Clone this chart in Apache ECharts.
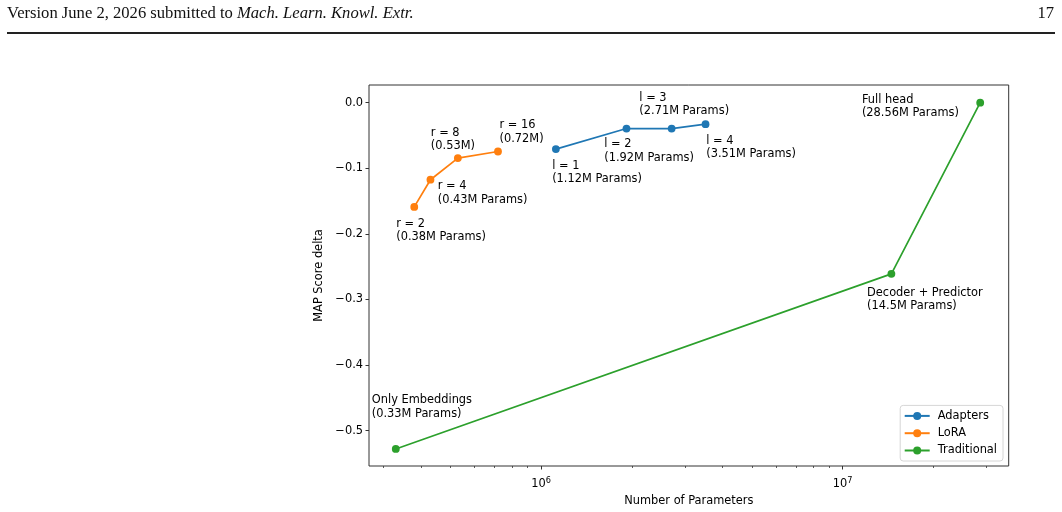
<!DOCTYPE html>
<html>
<head>
<meta charset="utf-8">
<script src="https://cdn.jsdelivr.net/npm/echarts@6/dist/echarts.min.js"></script>
<style>
  html, body { margin: 0; padding: 0; background: #fff; }
  #chart { width: 1062px; height: 512px; }
</style>
</head>
<body>
<div id="chart"></div>
<script>
// values
const adaptersParams = [1.12e6, 1.92e6, 2.71e6, 3.51e6];
const adaptersDelta = [-0.0708, -0.0395, -0.0395, -0.0328];
const adaptersLabels = ['l = 1\n(1.12M Params)', 'l = 2\n(1.92M Params)', 'l = 3\n(2.71M Params)', 'l = 4\n(3.51M Params)'];

const loraParams = [0.38e6, 0.43e6, 0.53e6, 0.72e6];
const loraDelta = [-0.159, -0.1175, -0.0845, -0.0745];
const loraLabels = ['r = 2\n(0.38M Params)', 'r = 4\n(0.43M Params)', 'r = 8\n(0.53M)', 'r = 16\n(0.72M)'];

const traditionalParams = [0.33e6, 14.5e6, 28.56e6];
const traditionalDelta = [-0.528, -0.261, 0.0];
const traditionalLabels = ['Only Embeddings\n(0.33M Params)', 'Decoder + Predictor\n(14.5M Params)', 'Full head\n(28.56M Params)'];

const yTicks = [-0.5, -0.4, -0.3, -0.2, -0.1, 0.0];
const xMajorTicks = [1e6, 1e7];
const xMinorTicks = [3e5, 4e5, 5e5, 6e5, 7e5, 8e5, 9e5, 2e6, 3e6, 4e6, 5e6, 6e6, 7e6, 8e6, 9e6, 2e7, 3e7];

// annotation text offsets (px) from each marker to the text block's top-left
const adaptersOffsets = [[-3.7, 9.8], [-22.3, 8.8], [-32.3, -37.6], [0.7, 9.8]];
const loraOffsets = [[-18, 9.8], [7.3, -0.2], [-27, -32.2], [1.5, -32.9]];
const traditionalOffsets = [[-24, -55.6], [-24.3, 12.1], [-118.3, -9.9]];

const FONT = 'DejaVu Sans';
const FS = 11.4;

function buildData(xs, ys, labels, offsets) {
  return xs.map((x, i) => ({
    value: [x, ys[i]],
    label: { formatter: labels[i], offset: offsets[i] }
  }));
}

function lineSeries(name, color, data) {
  return {
    name,
    type: 'line',
    data,
    symbol: 'circle',
    symbolSize: 7.8,
    color,
    lineStyle: { width: 1.7, color },
    itemStyle: { color },
    label: {
      show: true,
      position: 'inside',
      align: 'left',
      verticalAlign: 'top',
      fontFamily: FONT,
      fontSize: FS,
      lineHeight: 13.7,
      color: '#000'
    },
    emphasis: { disabled: true },
    animation: false
  };
}

const chart = echarts.init(document.getElementById('chart'));
chart.setOption({
  animation: false,
  textStyle: { fontFamily: FONT },
  graphic: [
    {
      type: 'text',
      x: 7,
      y: 13.5,
      style: {
        text: '{r|Version June 2, 2026 submitted to }{i|Mach. Learn. Knowl. Extr.}',
        verticalAlign: 'middle',
        rich: {
          r: { fontFamily: 'Liberation Serif', fontSize: 16.6, fill: '#111' },
          i: { fontFamily: 'Liberation Serif', fontSize: 16.6, fontStyle: 'italic', fill: '#111' }
        }
      }
    },
    {
      type: 'text',
      x: 1054,
      y: 13.5,
      style: {
        text: '17',
        align: 'right',
        verticalAlign: 'middle',
        fontFamily: 'Liberation Serif',
        fontSize: 16.6,
        fill: '#111'
      }
    },
    {
      type: 'line',
      shape: { x1: 7, y1: 33, x2: 1055, y2: 33 },
      style: { stroke: '#222', lineWidth: 2 }
    }
  ],
  grid: {
    left: 369,
    right: 53.3,
    top: 85,
    bottom: 44.7,
    show: true,
    borderColor: '#333',
    borderWidth: 1,
    backgroundColor: 'transparent'
  },
  xAxis: [
    {
      type: 'log',
      min: 2.69e5,
      max: 3.55e7,
      name: 'Number of Parameters',
      nameLocation: 'middle',
      nameGap: 30,
      nameTextStyle: { fontFamily: FONT, fontSize: FS, color: '#000' },
      axisLine: { show: false, onZero: false },
      splitLine: { show: false },
      minorTick: { show: false },
      axisTick: { show: true, length: 3.5, customValues: xMajorTicks, lineStyle: { color: '#333' } },
      axisLabel: {
        customValues: xMajorTicks,
        margin: 11,
        formatter: (v) => '{b|10}{s|' + Math.round(Math.log10(v)) + '}',
        rich: {
          b: { fontFamily: FONT, fontSize: FS, color: '#000' },
          s: { fontFamily: FONT, fontSize: 8.2, color: '#000', verticalAlign: 'top', padding: [0, 0, 6, 0] }
        }
      }
    },
    {
      type: 'log',
      min: 2.69e5,
      max: 3.55e7,
      position: 'bottom',
      axisLine: { show: false, onZero: false },
      splitLine: { show: false },
      axisLabel: { show: false },
      axisTick: { show: true, length: 2, customValues: xMinorTicks, lineStyle: { color: '#333', width: 0.8 } }
    }
  ],
  yAxis: {
    type: 'value',
    min: -0.554,
    max: 0.0269,
    name: 'MAP Score delta',
    nameLocation: 'middle',
    nameGap: 38,
    nameTextStyle: { fontFamily: FONT, fontSize: FS, color: '#000' },
    axisLine: { show: false },
    splitLine: { show: false },
    axisTick: { show: true, length: 3.5, customValues: yTicks, lineStyle: { color: '#333' } },
    axisLabel: {
      customValues: yTicks,
      margin: 6,
      fontFamily: FONT,
      fontSize: FS,
      color: '#000',
      formatter: (v) => {
        const r = Math.round(v * 10) / 10;
        return (r < 0 ? '\u2212' : '') + Math.abs(r).toFixed(1);
      }
    }
  },
  legend: {
    orient: 'vertical',
    right: 59,
    bottom: 51,
    itemWidth: 25,
    itemHeight: 10,
    itemGap: 5.3,
    padding: [4.5, 6, 4.5, 3.5],
    borderColor: '#d6d6d6',
    borderWidth: 1,
    borderRadius: 3,
    backgroundColor: 'rgba(255,255,255,0.8)',
    textStyle: { fontFamily: FONT, fontSize: FS, color: '#000', lineHeight: 12, padding: [0, 0, 0, 3] },
    data: ['Adapters', 'LoRA', 'Traditional']
  },
  series: [
    lineSeries('Adapters', '#1f77b4', buildData(adaptersParams, adaptersDelta, adaptersLabels, adaptersOffsets)),
    lineSeries('LoRA', '#ff7f0e', buildData(loraParams, loraDelta, loraLabels, loraOffsets)),
    lineSeries('Traditional', '#2ca02c', buildData(traditionalParams, traditionalDelta, traditionalLabels, traditionalOffsets))
  ]
});
</script>
</body>
</html>
